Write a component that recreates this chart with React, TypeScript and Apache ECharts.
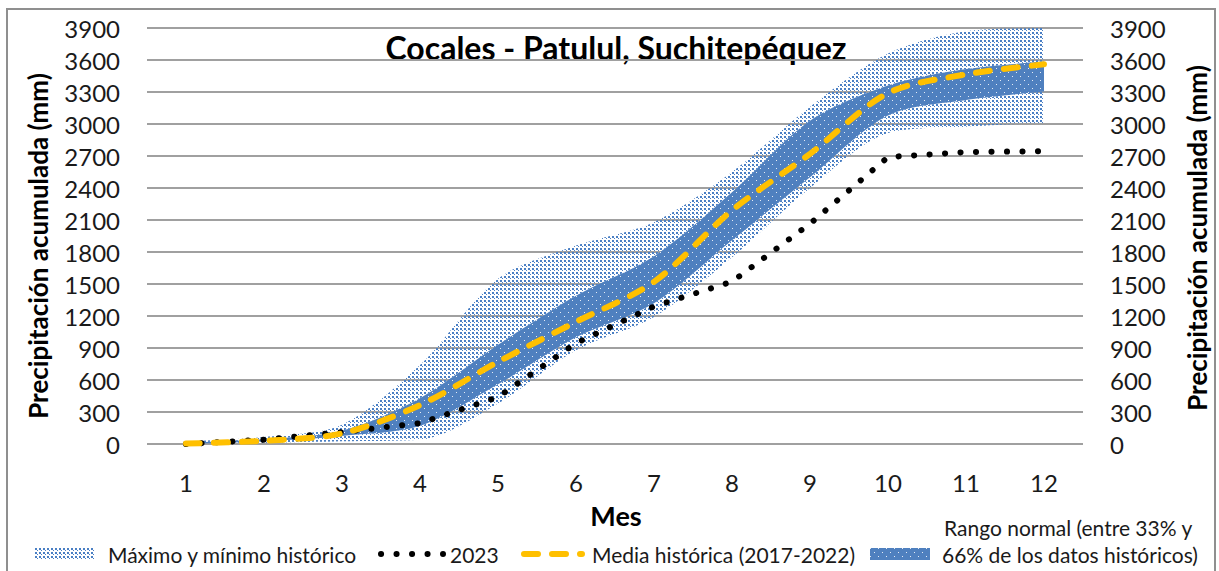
import React, { useEffect, useRef } from "react";
import * as echarts from "echarts";

const months = ["1", "2", "3", "4", "5", "6", "7", "8", "9", "10", "11", "12"];
const minHist = [0, 10, 25, 40, 380, 880, 1190, 1750, 2400, 2915, 2975, 3010];
const p33 = [3, 25, 75, 170, 560, 1000, 1320, 1910, 2500, 3080, 3225, 3305];
const p66 = [12, 45, 125, 430, 930, 1390, 1760, 2360, 3030, 3360, 3515, 3585];
const maxHist = [25, 65, 180, 740, 1550, 1860, 2080, 2550, 3160, 3660, 3870, 3900];
const mean = [5, 30, 100, 365, 770, 1145, 1520, 2190, 2720, 3290, 3465, 3560];
const y2023 = [0, 40, 112, 195, 440, 945, 1290, 1522, 2065, 2690, 2737, 2745];
const yTicks = { min: 0, max: 3900, interval: 300 };

const NAME_MAXMIN = "Máximo y mínimo histórico";
const NAME_2023 = "2023";
const NAME_MEAN = "Media histórica (2017-2022)";
const NAME_NORMAL = "Rango normal (entre 33% y 66% de los datos históricos)";

function makePattern(bg: string | null, dot: string, size: number, rects: number[][]) {
  const c = document.createElement("canvas");
  c.width = size;
  c.height = size;
  const ctx = c.getContext("2d")!;
  if (bg) {
    ctx.fillStyle = bg;
    ctx.fillRect(0, 0, size, size);
  }
  ctx.fillStyle = dot;
  rects.forEach(([x, y, w, h]) => ctx.fillRect(x, y, w, h));
  return { image: c, repeat: "repeat" } as any;
}

export default function App() {
  const ref = useRef<HTMLDivElement>(null);
  useEffect(() => {
    if (!ref.current) return;
    const chart = echarts.init(ref.current, null, { renderer: "svg" });
    const light = makePattern(null, "#4a7fc4", 4, [[0, 0, 2, 2], [2, 2, 1, 1]]);
    const dark = makePattern("#4f80bf", "rgba(255,255,255,0.85)", 8, [[0, 0, 1, 1], [4, 4, 1, 1]]);
    const font = "Lato, 'Noto Sans', sans-serif";
    const diff = (a: number[], b: number[]) => a.map((v, i) => +(v - b[i]).toFixed(2));
    const bandBase = {
      type: "line",
      stack: "band",
      smooth: 0.3,
      showSymbol: false,
      symbol: "none",
      lineStyle: { width: 0, opacity: 0 },
      emphasis: { disabled: true },
      silent: true,
    };
    const legendText = { fontFamily: font, fontSize: 21, color: "#1a1a1a", lineHeight: 24 };
    const axisLabel = { fontFamily: font, fontSize: 24, color: "#1a1a1a", margin: 27, formatter: (v: number) => String(v) };
    chart.setOption({
      animation: false,
      backgroundColor: "#ffffff",
      grid: { left: 147, right: 136, top: 28, bottom: 127 },
      xAxis: {
        type: "category",
        data: months,
        boundaryGap: true,
        axisLine: { show: false },
        axisTick: { show: false },
        axisLabel: { fontFamily: font, fontSize: 24, color: "#1a1a1a", margin: 26 },
        splitLine: { show: false },
      },
      yAxis: [
        {
          type: "value",
          ...yTicks,
          axisLine: { show: false },
          axisTick: { show: false },
          axisLabel,
          splitLine: { lineStyle: { color: "#a0a0a0", width: 2 } },
        },
        {
          type: "value",
          ...yTicks,
          position: "right",
          axisLine: { show: false },
          axisTick: { show: false },
          axisLabel,
          splitLine: { show: false },
        },
      ],
      legend: [
        {
          data: [{ name: NAME_MAXMIN, icon: "rect", itemStyle: { color: light } }],
          left: 35, top: 542, padding: 0, itemWidth: 60, itemHeight: 12,
          textStyle: { ...legendText, padding: [0, 0, 0, 8] },
          selectedMode: false,
        },
        {
          data: [{ name: NAME_2023, icon: "rect", itemStyle: { color: "rgba(0,0,0,0)", opacity: 0 } }],
          left: 378, top: 542, padding: 0, itemWidth: 62, itemHeight: 12,
          textStyle: { ...legendText, padding: [0, 0, 0, 5] },
          selectedMode: false,
        },
        {
          data: [{ name: NAME_MEAN, icon: "rect", itemStyle: { color: "rgba(0,0,0,0)", opacity: 0 } }],
          left: 518, top: 542, padding: 0, itemWidth: 64, itemHeight: 12,
          textStyle: { ...legendText, padding: [0, 0, 0, 5] },
          selectedMode: false,
        },
        {
          data: [{ name: NAME_NORMAL, icon: "rect", itemStyle: { color: dark } }],
          left: 870, top: 542, padding: 0, itemWidth: 60, itemHeight: 12,
          formatter: () => "66% de los datos históricos)",
          textStyle: { ...legendText, padding: [0, 0, 0, 7] },
          selectedMode: false,
        },
      ],
      graphic: [
        {
          type: "rect",
          shape: { x: 7, y: 9, width: 1208, height: 575 },
          style: { fill: "none", stroke: "#8f8f8f", lineWidth: 2 },
          silent: true,
        },
        {
          type: "text",
          x: 616, y: 47,
          style: { text: "Cocales - Patulul, Suchitepéquez", font: `bold 32px ${font}`, fill: "#000", align: "center", verticalAlign: "middle" },
        },
        {
          type: "text",
          x: 616, y: 515,
          style: { text: "Mes", font: `bold 27px ${font}`, fill: "#000", align: "center", verticalAlign: "middle" },
        },
        {
          type: "text",
          x: 38, y: 246, rotation: Math.PI / 2,
          style: { text: "Precipitación acumulada (mm)", font: `bold 26px ${font}`, fill: "#000", align: "center", verticalAlign: "middle" },
        },
        {
          type: "text",
          x: 1197, y: 238, rotation: Math.PI / 2,
          style: { text: "Precipitación acumulada (mm)", font: `bold 26px ${font}`, fill: "#000", align: "center", verticalAlign: "middle" },
        },
        {
          type: "text",
          x: 944, y: 527,
          style: { text: "Rango normal (entre 33% y", font: `21px ${font}`, fill: "#1a1a1a", align: "left", verticalAlign: "middle" },
        },
        {
          type: "line",
          shape: { x1: 381, y1: 554, x2: 443, y2: 554 },
          style: { stroke: "#000", lineWidth: 6, lineDash: [0.1, 15.4], lineCap: "round" },
          silent: true,
        },
        {
          type: "line",
          shape: { x1: 524, y1: 554, x2: 582, y2: 554 },
          style: { stroke: "#ffc000", lineWidth: 6, lineDash: [14, 14], lineCap: "round" },
          silent: true,
        },
      ],
      series: [
        { ...bandBase, name: "base", data: minHist, areaStyle: { opacity: 0 } },
        { ...bandBase, name: NAME_MAXMIN, data: diff(p33, minHist), areaStyle: { color: light, opacity: 1 }, itemStyle: { color: "#9db8e0" } },
        { ...bandBase, name: NAME_NORMAL, data: diff(p66, p33), areaStyle: { color: dark, opacity: 1 }, itemStyle: { color: "#4f81bd" } },
        { ...bandBase, name: NAME_MAXMIN, data: diff(maxHist, p66), areaStyle: { color: light, opacity: 1 }, itemStyle: { color: "#9db8e0" } },
        {
          type: "line",
          name: NAME_2023,
          data: y2023,
          showSymbol: false,
          symbol: "none",
          itemStyle: { color: "#000" },
          lineStyle: { color: "#000", width: 6, type: [0.1, 15.4], cap: "round" },
          z: 5,
        },
        {
          type: "line",
          name: NAME_MEAN,
          data: mean,
          smooth: 0.3,
          showSymbol: false,
          symbol: "none",
          itemStyle: { color: "#ffc000" },
          lineStyle: { color: "#ffc000", width: 6, type: [14, 14], cap: "round" },
          z: 6,
        },
      ],
    });
    return () => chart.dispose();
  }, []);
  return <div ref={ref} style={{ position: "absolute", left: 0, top: 0, width: 1219, height: 571 }} />;
}
